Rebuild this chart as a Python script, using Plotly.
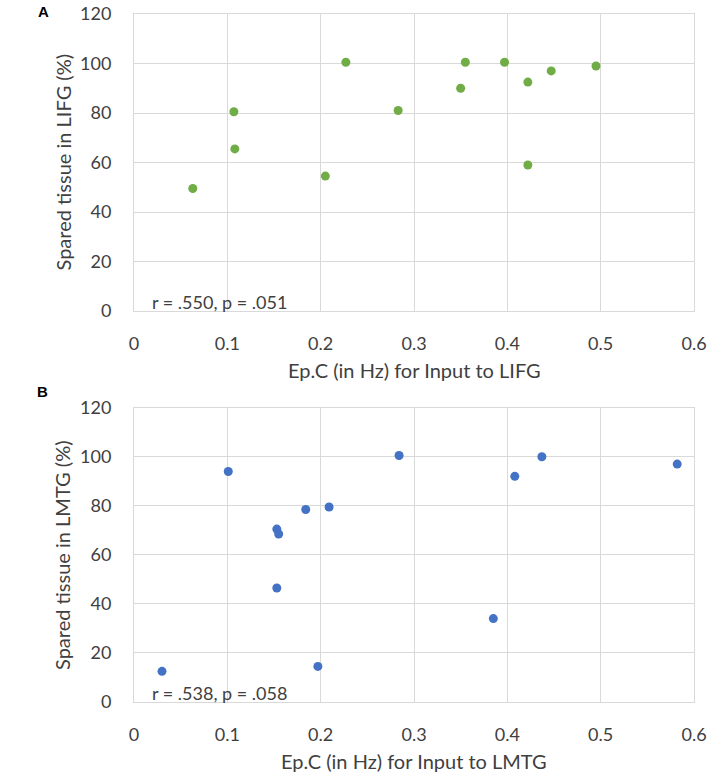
import plotly.graph_objects as go

# Panel A data (LIFG)
lifg_x = [0.063, 0.107, 0.108, 0.205, 0.227, 0.283, 0.350, 0.355, 0.397, 0.422, 0.422, 0.447, 0.495]
lifg_y = [49.5, 80.5, 65.5, 54.5, 100.5, 81.0, 90.0, 100.5, 100.5, 92.5, 59.0, 97.0, 99.0]

# Panel B data (LMTG)
lmtg_x = [0.030, 0.101, 0.153, 0.155, 0.153, 0.184, 0.197, 0.209, 0.284, 0.385, 0.408, 0.437, 0.582]
lmtg_y = [12.5, 94.0, 70.5, 68.5, 46.5, 78.5, 14.5, 79.5, 100.5, 34.0, 92.0, 100.0, 97.0]

x_ticks = [0, 0.1, 0.2, 0.3, 0.4, 0.5, 0.6]
x_tick_labels = ["0", "0.1", "0.2", "0.3", "0.4", "0.5", "0.6"]
y_ticks = [0, 20, 40, 60, 80, 100, 120]
y_tick_labels = ["0", "20", "40", "60", "80", "100", "120"]

W, H = 708, 777
FONT = "Lato, 'Open Sans', sans-serif"
TXT = "#404040"
GRID = "#d9d9d9"

def px(x):
    return x / W

def py(y):
    return 1 - y / H

fig = go.Figure()
fig.add_trace(go.Scatter(x=lifg_x, y=lifg_y, mode="markers",
                         marker=dict(color="#70ad47", size=9),
                         xaxis="x", yaxis="y", showlegend=False))
fig.add_trace(go.Scatter(x=lmtg_x, y=lmtg_y, mode="markers",
                         marker=dict(color="#4472c4", size=9),
                         xaxis="x2", yaxis="y2", showlegend=False))

xdom = [px(134), px(694)]
ydomA = [py(311), py(14)]
ydomB = [py(702), py(407.7)]

common_x = dict(range=[0, 0.6], tickvals=x_ticks, ticktext=x_tick_labels,
                showgrid=True, gridcolor=GRID, gridwidth=1,
                showline=True, linecolor=GRID, linewidth=1, mirror=True,
                zeroline=False, ticks="", ticklabelstandoff=16,
                ticklabeloverflow="allow",
                tickfont=dict(family=FONT, size=18, color=TXT), automargin=False,
                fixedrange=True)
common_y = dict(range=[0, 120], tickvals=y_ticks, ticktext=y_tick_labels,
                showgrid=True, gridcolor=GRID, gridwidth=1,
                showline=True, linecolor=GRID, linewidth=1, mirror=True,
                zeroline=False, ticks="", ticklabelstandoff=18,
                ticklabeloverflow="allow",
                tickfont=dict(family=FONT, size=18, color=TXT), automargin=False,
                fixedrange=True)

fig.update_layout(
    width=W, height=H,
    margin=dict(l=0, r=0, t=0, b=0),
    paper_bgcolor="white", plot_bgcolor="white",
    hovermode=False,
    xaxis=dict(domain=xdom, anchor="y", **common_x),
    yaxis=dict(domain=ydomA, anchor="x", **common_y),
    xaxis2=dict(domain=xdom, anchor="y2", **common_x),
    yaxis2=dict(domain=ydomB, anchor="x2", **common_y),
)

xc = px((134 + 694) / 2)
ann = [
    dict(text="<b>A</b>", x=px(43), y=py(12), font=dict(family="Liberation Sans, Arial", size=15, color="black")),
    dict(text="<b>B</b>", x=px(42), y=py(392), font=dict(family="Liberation Sans, Arial", size=15, color="black")),
    dict(text="Spared tissue in LIFG (%)", x=px(62), y=py(162.5), textangle=-90,
         font=dict(family=FONT, size=20, color=TXT)),
    dict(text="Spared tissue in LMTG (%)", x=px(62), y=py(555), textangle=-90,
         font=dict(family=FONT, size=20, color=TXT)),
    dict(text="Ep.C (in Hz) for Input to LIFG", x=xc, y=py(370),
         font=dict(family=FONT, size=20, color=TXT)),
    dict(text="Ep.C (in Hz) for Input to LMTG", x=xc, y=py(761),
         font=dict(family=FONT, size=20, color=TXT)),
    dict(text="r = .550, p = .051", x=px(150), y=py(302), xanchor="left",
         font=dict(family=FONT, size=18, color=TXT)),
    dict(text="r = .538, p = .058", x=px(150), y=py(693), xanchor="left",
         font=dict(family=FONT, size=18, color=TXT)),
]
for a in ann:
    a.setdefault("xanchor", "center")
    a.update(xref="paper", yref="paper", yanchor="middle", showarrow=False)
fig.update_layout(annotations=ann)

fig.write_html(
    "out.html",
    config={"displayModeBar": False, "staticPlot": True},
    post_script="document.body.style.margin='0';document.body.style.overflow='hidden';",
)
